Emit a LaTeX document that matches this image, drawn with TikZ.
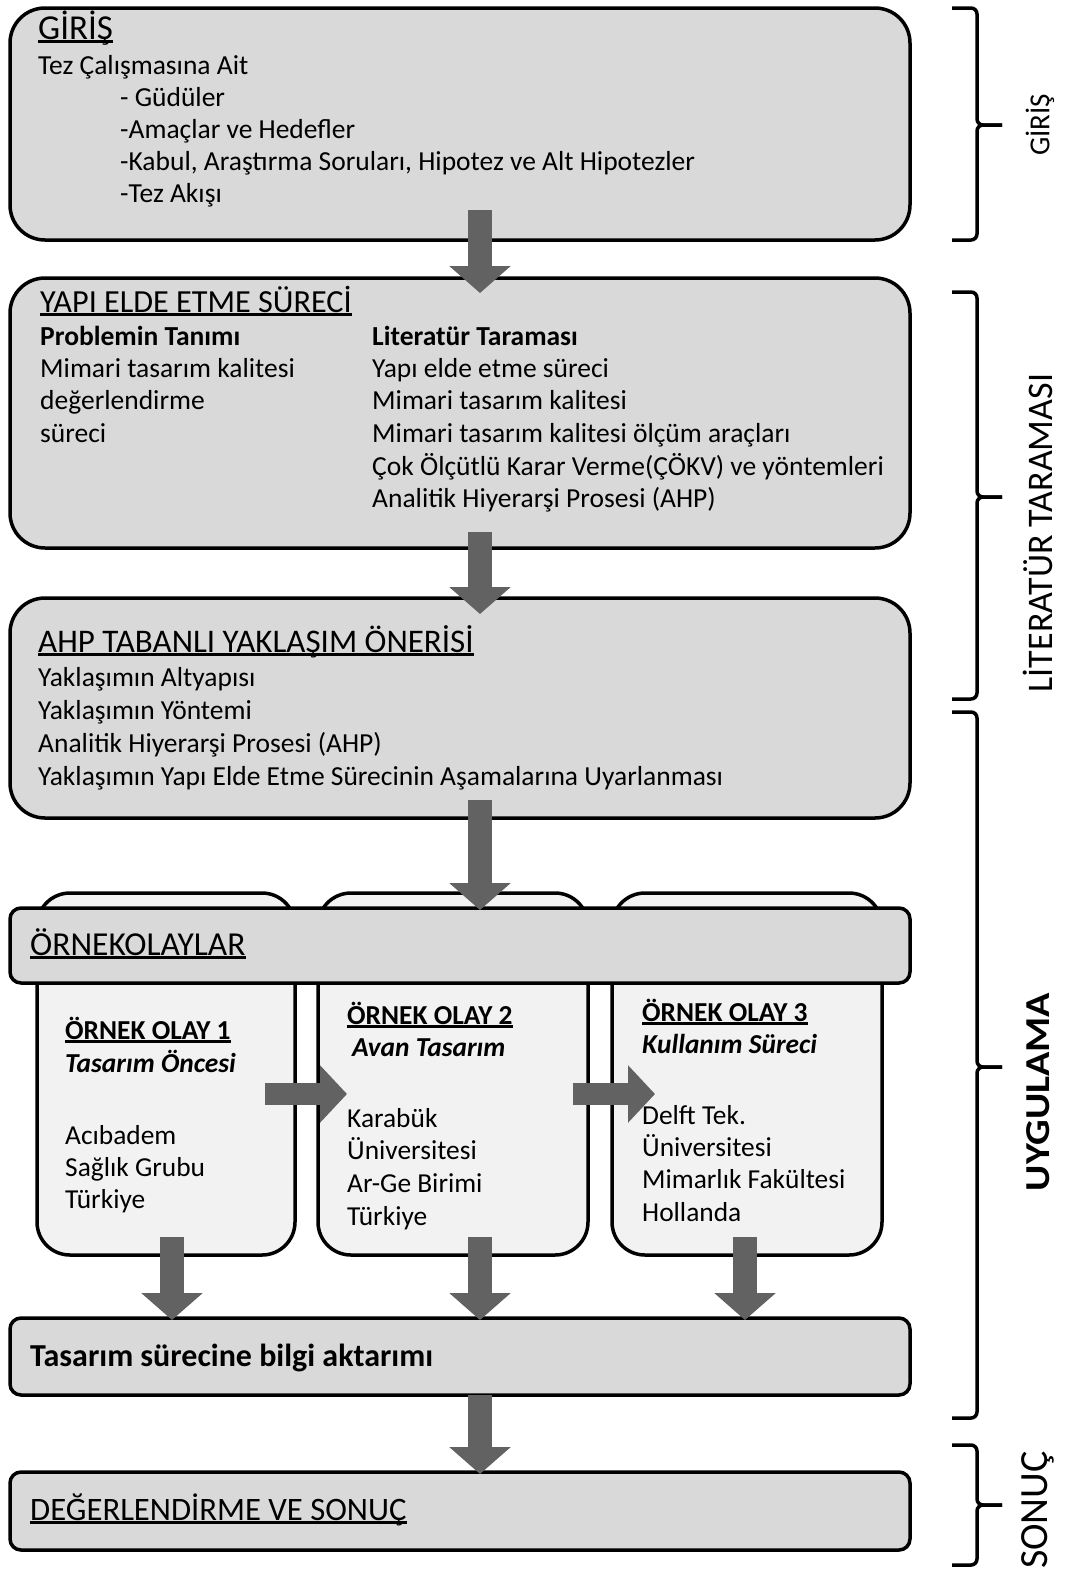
\documentclass[tikz,border=0pt]{standalone}
\usepackage{fontspec}
\usepackage{graphicx}
\setmainfont{Carlito}
\usetikzlibrary{arrows.meta,calc}
\definecolor{boxgray}{HTML}{D9D9D9}
\definecolor{casegray}{HTML}{F2F2F2}
\definecolor{arrowgray}{HTML}{626262}

% underlined text with a thick rule
\newcommand\ulx[1]{\setbox0\hbox{#1}\rlap{\rule[-3.8pt]{\wd0}{2.4pt}}\box0}

\tikzset{
  bigbox/.style={draw=black, line width=3.5pt, fill=boxgray, rounded corners=35pt,
    anchor=north west, inner sep=0pt, outer sep=0pt},
  barbox/.style={draw=black, line width=3.5pt, fill=boxgray, rounded corners=11pt,
    anchor=north west, inner sep=0pt, outer sep=0pt},
  casebox/.style={draw=black, line width=3.5pt, fill=casegray, rounded corners=33pt,
    anchor=north west, inner sep=0pt, outer sep=0pt},
  txt/.style={anchor=base west, inner sep=0pt, font=\fontsize{27.5}{32}\selectfont},
  txtb/.style={txt, font=\fontsize{27.5}{32}\selectfont\bfseries},
  casetxt/.style={anchor=base west, inner sep=0pt, font=\fontsize{27.4}{32}\selectfont},
  caseb/.style={casetxt, font=\fontsize{27.4}{32}\selectfont\bfseries},
  casebi/.style={casetxt, font=\fontsize{27.4}{32}\selectfont\bfseries\itshape},
  head/.style={anchor=base west, inner sep=0pt, font=\fontsize{32.2}{36}\selectfont},
  flow/.style={line width=24pt, draw=arrowgray, -{Triangle[width=60pt,length=27pt]}},
  sideflow/.style={line width=22pt, draw=arrowgray, -{Triangle[width=56pt,length=27pt]}},
  side/.style={rotate=90, inner sep=0pt},
  brace/.style={line width=3.5pt, rounded corners=6pt}
}

% right-hand section bracket: top, bottom, middle
\newcommand\sectbrace[3]{%
  \draw[brace] (952,#1) -- (977,#1) -- (977,#3) -- (1002,#3);
  \draw[brace] (952,#2) -- (977,#2) -- (977,#3) -- (1002,#3);}

\begin{document}
\begin{tikzpicture}[x=1pt, y=-1pt]
\useasboundingbox (0,0) rectangle (1067,1572);
\fill[white] (0,0) rectangle (1067,1572);

\coordinate (axis) at (480,0);

% ---------- GİRİŞ ----------
\node[bigbox, minimum width=900pt, minimum height=232pt] (giris) at (10,8) {};
\node[head, font=\fontsize{35}{38}\selectfont] (gh) at (38,39) {\ulx{GİRİŞ}};
\node[txt] (g1) at (38,74) {Tez Çalışmasına Ait};
\node[txt] (g2) at (120,106) {- Güdüler};
\node[txt] (g3) at (120,138) {-Amaçlar ve Hedefler};
\node[txt] (g4) at (120,170) {-Kabul, Araştırma Soruları, Hipotez ve Alt Hipotezler};
\node[txt] (g5) at (120,202) {-Tez Akışı};

% ---------- YAPI ELDE ETME SÜRECİ ----------
\node[bigbox, minimum width=900pt, minimum height=270pt] (yapi) at (10,278) {};
\node[head] (yh) at (40,312) {\ulx{YAPI ELDE ETME SÜRECİ}};
\node[txtb] (y1) at (40,345) {Problemin Tanımı};
\node[txt] (y2) at (40,377) {Mimari tasarım kalitesi};
\node[txt] (y3) at (40,409) {değerlendirme};
\node[txt] (y4) at (40,442) {süreci};
\node[txtb] (l1) at (372,345) {Literatür Taraması};
\node[txt] (l2) at (372,377) {Yapı elde etme süreci};
\node[txt] (l3) at (372,409) {Mimari tasarım kalitesi};
\node[txt] (l4) at (372,442) {Mimari tasarım kalitesi ölçüm araçları};
\node[txt] (l5) at (372,475) {Çok Ölçütlü Karar Verme(ÇÖKV) ve yöntemleri};
\node[txt] (l6) at (372,507) {Analitik Hiyerarşi Prosesi (AHP)};

% ---------- AHP TABANLI YAKLAŞIM ÖNERİSİ ----------
\node[bigbox, minimum width=900pt, minimum height=220pt] (ahp) at (10,598) {};
\node[head, font=\fontsize{33}{36}\selectfont] (ah) at (38,652) {\ulx{AHP TABANLI YAKLAŞIM ÖNERİSİ}};
\node[txt] (a1) at (38,686) {Yaklaşımın Altyapısı};
\node[txt] (a2) at (38,719) {Yaklaşımın Yöntemi};
\node[txt] (a3) at (38,752) {Analitik Hiyerarşi Prosesi (AHP)};
\node[txt] (a4) at (38,785) {Yaklaşımın Yapı Elde Etme Sürecinin Aşamalarına Uyarlanması};

% ---------- case studies ----------
\node[casebox, minimum width=258pt, minimum height=362pt] (c1) at (37,893) {};
\node[casebox, minimum width=270pt, minimum height=362pt] (c2) at (318,893) {};
\node[casebox, minimum width=270pt, minimum height=362pt] (c3) at (612,893) {};
\node[barbox, minimum width=900pt, minimum height=75pt] (ornek) at (10,908) {};
\node[head, font=\fontsize{33.5}{36}\selectfont] (oh) at (30,955) {\ulx{ÖRNEKOLAYLAR}};

\node[caseb] (c1h) at (65,1039) {\ulx{ÖRNEK OLAY 1}};
\node[casebi] (c1s) at (65,1072) {Tasarım Öncesi};
\node[casetxt] (c1a) at (65,1144) {Acıbadem};
\node[casetxt] (c1b) at (65,1176) {Sağlık Grubu};
\node[casetxt] (c1c) at (65,1208) {Türkiye};

\node[caseb] (c2h) at (347,1024) {\ulx{ÖRNEK OLAY 2}};
\node[casebi] (c2s) at (352,1056) {Avan Tasarım};
\node[casetxt] (c2a) at (347,1127) {Karabük};
\node[casetxt] (c2b) at (347,1159) {Üniversitesi};
\node[casetxt] (c2c) at (347,1192) {Ar-Ge Birimi};
\node[casetxt] (c2d) at (347,1225) {Türkiye};

\node[caseb] (c3h) at (642,1021) {\ulx{ÖRNEK OLAY 3}};
\node[casebi] (c3s) at (642,1053) {Kullanım Süreci};
\node[casetxt] (c3a) at (642,1124) {Delft Tek.};
\node[casetxt] (c3b) at (642,1156) {Üniversitesi};
\node[casetxt] (c3c) at (642,1188) {Mimarlık Fakültesi};
\node[casetxt] (c3d) at (642,1221) {Hollanda};

% ---------- lower boxes ----------
\node[barbox, minimum width=900pt, minimum height=77pt] (bilgi) at (10,1318) {};
\node[txt, font=\fontsize{32}{36}\selectfont\bfseries] (bt) at (30,1366) {Tasarım sürecine bilgi aktarımı};
\node[barbox, minimum width=900pt, minimum height=78pt] (sonuc) at (10,1472) {};
\node[head, font=\fontsize{32.7}{36}\selectfont] (st) at (30,1520) {\ulx{DEĞERLENDİRME VE SONUÇ}};

% ---------- block arrows ----------
\draw[flow] ($(giris.south -| axis)+(0,-30)$) -- ($(yapi.north -| axis)+(0,15)$);
\draw[flow] ($(yapi.south -| axis)+(0,-16)$) -- ($(ahp.north -| axis)+(0,16)$);
\draw[flow] ($(ahp.south -| axis)+(0,-18)$) -- ($(ornek.north -| axis)+(0,2)$);
\coordinate (h1) at (0,1094);
\draw[sideflow] ($(c1.east |- h1)+(-30,0)$) -- ($(c2.west |- h1)+(29,0)$);
\draw[sideflow] ($(c2.east |- h1)+(-15,0)$) -- ($(c3.west |- h1)+(43,0)$);
\coordinate (v1) at (172,0);
\coordinate (v3) at (745,0);
\draw[flow] ($(c1.south -| v1)+(0,-18)$) -- ($(bilgi.north -| v1)+(0,2)$);
\draw[flow] ($(c2.south -| axis)+(0,-18)$) -- ($(bilgi.north -| axis)+(0,2)$);
\draw[flow] ($(c3.south -| v3)+(0,-18)$) -- ($(bilgi.north -| v3)+(0,2)$);
\draw[flow] (bilgi.south -| axis) -- ($(sonuc.north -| axis)+(0,2)$);

% ---------- section brackets ----------
\sectbrace{8}{240}{125}
\sectbrace{292}{699}{497}
\sectbrace{712}{1418}{1067}
\sectbrace{1445}{1565}{1505}
\node[side, font=\fontsize{29}{30}\selectfont] (sg) at (1040,125) {GİRİŞ};
\node[side, font=\fontsize{36}{38}\selectfont] (sl) at (1038,533) {LİTERATÜR TARAMASI};
\node[side, font=\fontsize{35}{38}\selectfont\bfseries] (su) at (1038,1092) {\scalebox{1.15}[1]{UYGULAMA}};
\node[side, font=\fontsize{40}{42}\selectfont] (ss) at (1038,1510) {SONUÇ};
\end{tikzpicture}
\end{document}
